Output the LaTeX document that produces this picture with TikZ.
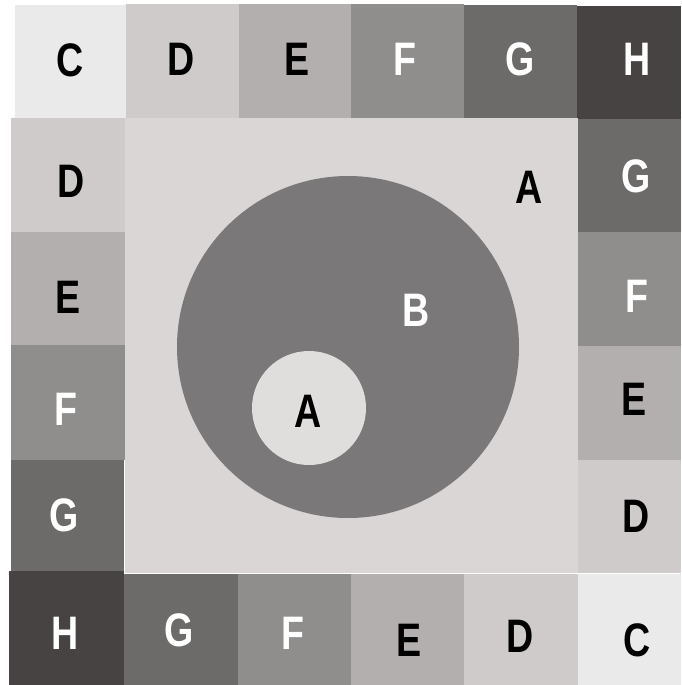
\documentclass[tikz,border=0pt]{standalone}
\usepackage{fontspec}
\setmainfont{Liberation Sans}[FakeStretch=0.8]
\begin{document}
\begin{tikzpicture}[x=1pt,y=-1pt]
\definecolor{cC}{HTML}{EAEAEA}
\definecolor{cD}{HTML}{CFCBCB}
\definecolor{cE}{HTML}{B3AFAF}
\definecolor{cF}{HTML}{8F8E8D}
\definecolor{cG}{HTML}{6C6B6A}
\definecolor{cH}{HTML}{474342}
\definecolor{cIn}{HTML}{DBD6D6}
\definecolor{cBig}{HTML}{7A7879}
\definecolor{cSmall}{HTML}{E0DDDD}
\tikzset{
  lbl/.style={font=\fontsize{47}{47}\selectfont\bfseries, inner sep=0pt, anchor=center},
  dk/.style={lbl, text=black},
  lt/.style={lbl, text=white}
}
\useasboundingbox (0,0) rectangle (681,685);
\fill[white] (0,0) rectangle (681,685);
% top row
\fill[cC] (15,5) rectangle (126,118);
\fill[cD] (126,4) rectangle (239,118);
\fill[cE] (239,4) rectangle (351,118);
\fill[cF] (351,4) rectangle (464,118);
\fill[cG] (464,5) rectangle (577,118);
\fill[cH] (577,6) rectangle (681,119);
% left column
\fill[cD] (11,118) rectangle (125,232);
\fill[cE] (11,232) rectangle (125,345);
\fill[cF] (11,345) rectangle (125,460);
\fill[cG] (11,460) rectangle (124,571);
\fill[cH] (9,571) rectangle (124,685);
% bottom row
\fill[cG] (124,574) rectangle (238,685);
\fill[cF] (238,574) rectangle (351,685);
\fill[cE] (351,574) rectangle (464,685);
\fill[cD] (464,574) rectangle (578,685);
\fill[cC] (578,574) rectangle (681,685);
% right column
\fill[cG] (578,119) rectangle (681,232);
\fill[cF] (578,232) rectangle (681,346);
\fill[cE] (578,346) rectangle (681,460);
\fill[cD] (578,460) rectangle (681,573);
% inner square
\fill[cIn] (125,118) rectangle (578,573);
\fill[cBig] (348,347) circle[radius=171];
\fill[cSmall] (309,408) circle[radius=57];
% labels
\node[dk] (t1) at (70,60) {C};
\node[dk] (t2) at (181,59) {D};
\node[dk] (t3) at (297,59) {E};
\node[lt] (t4) at (405,59) {F};
\node[lt] (t5) at (520,59) {G};
\node[lt] (t6) at (637,59) {H};
\node[dk] (l1) at (71,181) {D};
\node[dk] (l2) at (68,297) {E};
\node[lt] (l3) at (66,409) {F};
\node[lt] (l4) at (64,515) {G};
\node[lt] (l5) at (65,633) {H};
\node[lt] (b1) at (179,630) {G};
\node[lt] (b2) at (293,633) {F};
\node[dk] (b3) at (409,640) {E};
\node[dk] (b4) at (520,636) {D};
\node[dk] (b5) at (637,640) {C};
\node[lt] (r1) at (636,176) {G};
\node[lt] (r2) at (637,296) {F};
\node[dk] (r3) at (634,399) {E};
\node[dk] (r4) at (636,516) {D};
\node[dk] (aout) at (529,187) {A};
\node[lt] (bbig) at (416,310) {B};
\node[dk] (ain) at (308,411) {A};
\end{tikzpicture}
\end{document}
